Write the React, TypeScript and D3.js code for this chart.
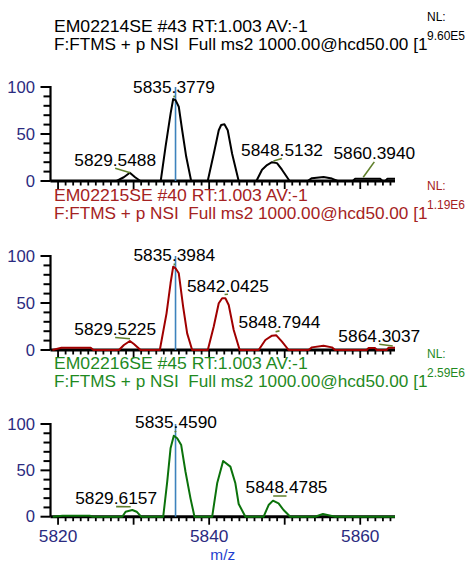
import React from "react";
import * as d3 from "d3";

// ---------- data ----------
const xDomain: [number, number] = [5819.0, 5864.6];
const xMajorTicks = [5820, 5830, 5840, 5850, 5860];
const xLabelTicks = [5820, 5840, 5860];
const xMinorTicks = d3.range(5820, 5865, 1);
const yMajorTicks = [0, 50, 100];
const yMinorTicks = d3.range(0, 101, 10);
const cursorMz = 5835.55;
const xAxisTitle = "m/z";

const titleLines1 = ["EM02214SE #43 RT:1.003 AV:-1", "F:FTMS + p NSI  Full ms2 1000.00@hcd50.00 [1"];
const titleLines2 = ["EM02215SE #40 RT:1.003 AV:-1", "F:FTMS + p NSI  Full ms2 1000.00@hcd50.00 [1"];
const titleLines3 = ["EM02216SE #45 RT:1.003 AV:-1", "F:FTMS + p NSI  Full ms2 1000.00@hcd50.00 [1"];
const nlValues = ["9.60E5", "1.19E6", "2.59E6"];

const profile1: [number, number][] = [
  [5819.0, 0], [5827.75, 0], [5828.7, 4], [5829.5, 8.8], [5830.2, 4], [5830.9, 0],
  [5833.59, 0], [5834.23, 36.5], [5834.9, 72], [5835.24, 87.2], [5835.55, 86], [5835.98, 79],
  [5836.43, 54], [5836.96, 26], [5837.62, 0],
  [5839.81, 0], [5840.61, 29], [5841.27, 54], [5841.59, 59.6], [5842.02, 60.3], [5842.46, 54],
  [5843.04, 29], [5843.91, 0],
  [5846.25, 0], [5847.0, 12], [5847.66, 17], [5848.32, 20], [5848.98, 19], [5849.64, 12], [5850.65, 0],
  [5853.03, 0], [5853.6, 3], [5855.14, 4.3], [5856.25, 2.6], [5857.0, 0],
  [5859.02, 0], [5859.33, 2.5], [5862.63, 2.5], [5862.93, 0],
  [5863.33, 0], [5863.6, 2.5], [5864.6, 2.5],
];

const profile2: [number, number][] = [
  [5819.26, 0], [5820.45, 2.4], [5824.32, 2.4], [5824.68, 0],
  [5828.06, 0], [5828.72, 5.3], [5829.51, 9.6], [5830.04, 6.4], [5830.92, 0],
  [5833.47, 0], [5834.36, 39], [5834.89, 71], [5835.24, 88.6], [5835.55, 87], [5835.98, 81.6],
  [5836.56, 46], [5837.09, 17.7], [5837.75, 0],
  [5839.82, 0], [5840.6, 24.8], [5841.27, 49.7], [5841.72, 55], [5842.15, 55], [5842.59, 47.9],
  [5843.25, 21.3], [5844.04, 0],
  [5846.55, 0], [5847.44, 10.6], [5848.32, 15.2], [5848.89, 15.6], [5849.64, 8.9], [5850.52, 0],
  [5853.16, 0], [5853.6, 2.8], [5855.14, 4.6], [5856.25, 2.8], [5856.68, 0],
  [5860.87, 0], [5861.08, 2], [5861.97, 2], [5862.19, 0],
  [5863.51, 0], [5863.73, 2.4], [5864.6, 2.4],
];
const grayRanges2: [number, number][] = [[5819.26, 5824.68], [5860.87, 5862.19], [5863.51, 5864.6]];

const profile3: [number, number][] = [
  [5819.3, 0], [5820.6, 1.1], [5824.2, 1.1], [5824.6, 0],
  [5828.5, 0], [5828.94, 5.4], [5829.83, 7.2], [5830.4, 5.4], [5831.0, 0],
  [5833.92, 0], [5834.45, 37.8], [5834.89, 73.8], [5835.32, 87.4], [5835.77, 84.6], [5836.3, 77.3],
  [5836.87, 48.5], [5837.53, 19.8], [5838.06, 0],
  [5840.4, 0], [5841.06, 36], [5841.85, 60], [5842.81, 54], [5843.47, 36], [5843.91, 13.7], [5844.8, 0],
  [5847.21, 0], [5847.87, 12.6], [5848.45, 17.3], [5849.19, 14.4], [5849.85, 7.2], [5850.74, 0],
  [5854.04, 0], [5855.06, 2.9], [5856.68, 0],
  [5864.6, 0],
];

type PeakLabel = { text: string; mz: number; at: number; lx: number; ly: number };
const peakLabels1: PeakLabel[] = [
  { text: "5835.3779", mz: 5835.3779, at: 89, lx: 5835.35, ly: 93.6 },
  { text: "5829.5488", mz: 5829.5488, at: 8.8, lx: 5827.56, ly: 16.3 },
  { text: "5848.5132", mz: 5848.5132, at: 21.3, lx: 5849.64, ly: 26.6 },
  { text: "5860.3940", mz: 5860.394, at: 4.0, lx: 5861.86, ly: 23.1 },
];
const peakLabels2: PeakLabel[] = [
  { text: "5835.3984", mz: 5835.3984, at: 90, lx: 5835.39, ly: 94.7 },
  { text: "5842.0425", mz: 5842.0425, at: 59, lx: 5842.48, ly: 62 },
  { text: "5829.5225", mz: 5829.5225, at: 12, lx: 5827.56, ly: 16 },
  { text: "5848.7944", mz: 5848.7944, at: 19.5, lx: 5849.31, ly: 23.1 },
  { text: "5864.3037", mz: 5864.3037, at: 4.3, lx: 5862.52, ly: 8.8 },
];
const peakLabels3: PeakLabel[] = [
  { text: "5835.4590", mz: 5835.459, at: 91, lx: 5835.61, ly: 95.4 },
  { text: "5829.6157", mz: 5829.6157, at: 10.8, lx: 5827.69, ly: 13.7 },
  { text: "5848.4785", mz: 5848.4785, at: 22.3, lx: 5850.24, ly: 25.2 },
];

// ---------- layout / style ----------
const W = 467, H = 565;
const plotLeft = 50.5, plotRight = 395;
const panels = [
  { top: 87, bottom: 181, titles: titleLines1, nl: nlValues[0], data: profile1, labels: peakLabels1, color: "#000000", textColor: "#000000", gray: [] as [number, number][], xLabels: false },
  { top: 256, bottom: 350, titles: titleLines2, nl: nlValues[1], data: profile2, labels: peakLabels2, color: "#a00000", textColor: "#a52222", gray: grayRanges2, xLabels: false },
  { top: 424, bottom: 516.7, titles: titleLines3, nl: nlValues[2], data: profile3, labels: peakLabels3, color: "#0b720b", textColor: "#1f8a1f", gray: [] as [number, number][], xLabels: true },
];
const FONT = "'Liberation Sans', Arial, Helvetica, sans-serif";
const axisColor = "#2b2b80";
const connectorColor = "#5f7f2a";
const cursorColor = "#3d83bd";
const SX = 1.1;

function SText(props: { x: number; y: number; size: number; fill: string; anchor?: string; children: React.ReactNode; sx?: number }) {
  const sx = props.sx ?? SX;
  return (
    <text
      transform={`translate(${props.x},${props.y}) scale(${sx},1)`}
      fontSize={props.size}
      fill={props.fill}
      textAnchor={props.anchor ?? "start"}
      fontFamily={FONT}
      style={{ whiteSpace: "pre" }}
    >
      {props.children}
    </text>
  );
}

export default function App() {
  const x = d3.scaleLinear().domain(xDomain).range([plotLeft, plotRight]);

  return (
    <svg width={W} height={H} style={{ position: "absolute", left: 0, top: 0, background: "#fff" }}>
      <rect x={0} y={0} width={W} height={H} fill="#fff" />
      {panels.map((p, pi) => {
        const y = d3.scaleLinear().domain([0, 100]).range([p.bottom, p.top]);
        const line = d3.line<[number, number]>().x((d) => x(d[0])).y((d) => y(d[1]));
        const area = d3.area<[number, number]>().x((d) => x(d[0])).y0(y(0)).y1((d) => y(d[1]));
        return (
          <g key={pi}>
            {/* titles */}
            <SText x={54} y={p.top - 55} size={16} fill={p.textColor} sx={1.1}>{p.titles[0]}</SText>
            <SText x={54} y={p.top - 37} size={16} fill={p.textColor} sx={1.075}>{p.titles[1]}</SText>
            <SText x={427} y={p.top - 66} size={12} fill={p.textColor} sx={1}>NL:</SText>
            <SText x={427} y={p.top - 47} size={12} fill={p.textColor} sx={1}>{p.nl}</SText>

            {/* gray fills */}
            {p.gray.map((r, ri) => (
              <path key={ri} d={area(p.data.filter((d) => d[0] >= r[0] && d[0] <= r[1])) || ""} fill="#a8a8a8" stroke="none" />
            ))}

            {/* y axis */}
            <line x1={plotLeft} x2={plotLeft} y1={y(100) - 1} y2={y(0)} stroke="#000" strokeWidth={2.2} />
            {yMinorTicks.map((t) => (
              <line key={"ym" + t} x1={plotLeft} x2={plotLeft - (yMajorTicks.includes(t) ? 10 : 7)} y1={y(t)} y2={y(t)} stroke="#000" strokeWidth={2} />
            ))}
            {yMajorTicks.map((t) => (
              <SText key={"yl" + t} x={35} y={y(t) + 5.5} size={16} fill={axisColor} anchor="end" sx={1.04}>{String(t)}</SText>
            ))}

            {/* x axis */}
            {xMinorTicks.map((t) => (
              <line key={"xm" + t} x1={x(t)} x2={x(t)} y1={y(0)} y2={y(0) + (xMajorTicks.includes(t) ? 8 : 4.5)} stroke="#000" strokeWidth={1.8} />
            ))}
            <line x1={plotLeft} x2={plotRight} y1={y(0)} y2={y(0)} stroke="#000" strokeWidth={3} />
            {p.xLabels && xLabelTicks.map((t) => (
              <SText key={"xl" + t} x={x(t)} y={y(0) + 25.6} size={16} fill={axisColor} anchor="middle" sx={1.08}>{String(t)}</SText>
            ))}

            {/* cursor */}
            <line x1={x(cursorMz)} x2={x(cursorMz)} y1={y(100)} y2={y(0)} stroke={cursorColor} strokeWidth={1.6} />

            {/* spectrum */}
            <path d={line(p.data) || ""} fill="none" stroke={p.color} strokeWidth={2} strokeLinejoin="round" />

            {/* peak labels */}
            {p.labels.map((l, li) => (
              <g key={"pl" + li}>
                <line x1={x(l.lx)} y1={y(l.ly) + 2.6} x2={x(l.mz)} y2={y(l.at)} stroke={connectorColor} strokeWidth={1.6} />
                <SText x={x(l.lx)} y={y(l.ly)} size={16.5} fill="#000" anchor="middle" sx={1.05}>{l.text}</SText>
              </g>
            ))}
          </g>
        );
      })}
      <SText x={x((xDomain[0] + xDomain[1]) / 2)} y={559.5} size={14} fill="#1f3fcf" anchor="middle" sx={1.1}>{xAxisTitle}</SText>
    </svg>
  );
}
